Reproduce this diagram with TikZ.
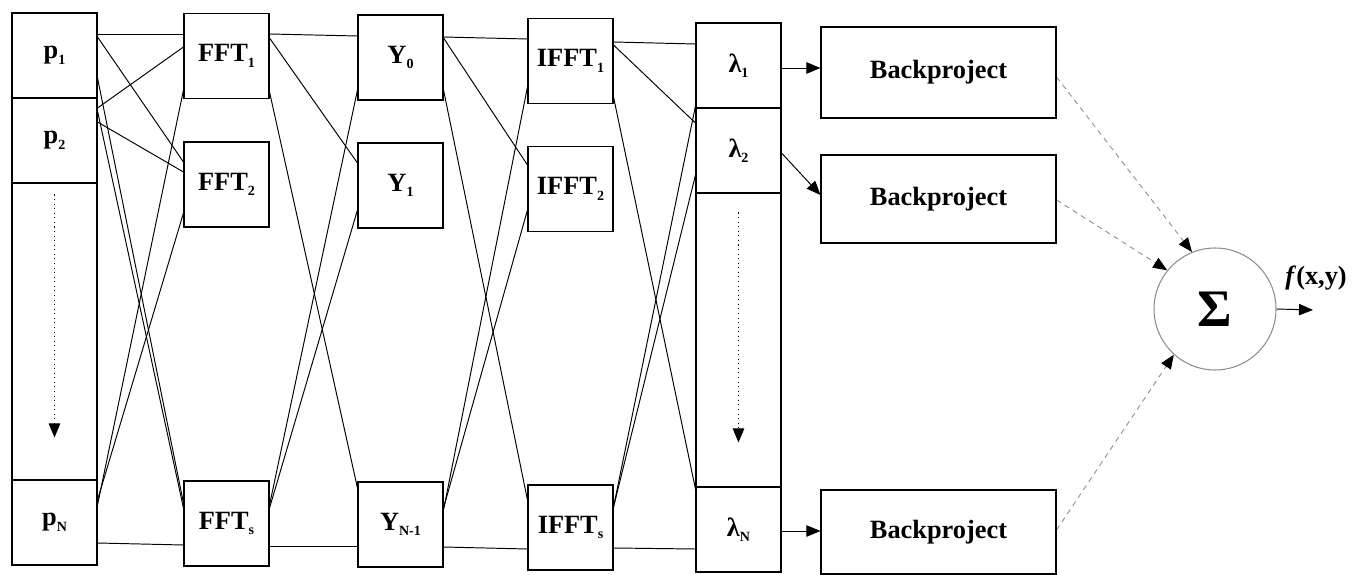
\documentclass[tikz,border=0pt]{standalone}
\usepackage{fontspec}
\setmainfont{Liberation Serif}
\usepackage{tikz}
\usetikzlibrary{arrows.meta}
\pgfdeclarelayer{edgelayer}
\pgfdeclarelayer{nodelayer}
\pgfsetlayers{edgelayer,nodelayer,main}
\newcommand{\subidx}[1]{\raisebox{-0.45ex}{\fontsize{8}{8}\selectfont #1}}
\tikzstyle{block}=[rectangle,draw=black,fill=white,line width=0.6pt,minimum width=1.7cm,minimum height=1.7cm,inner sep=0pt,font=\bfseries\fontsize{15}{18}\selectfont]
\tikzstyle{tall}=[block,minimum height=5.94cm]
\tikzstyle{wide}=[block,minimum width=4.7cm]
\tikzstyle{adder}=[circle,draw=black!45,line width=0.6pt,minimum size=2.44cm,inner sep=0pt,font=\bfseries\fontsize{30}{32}\selectfont]
\tikzstyle{simple}=[-,draw=black,line width=0.55pt]
\tikzstyle{directed}=[-{Triangle[length=8pt,width=6.5pt,black]},draw=black,line width=0.55pt]
\tikzstyle{faint}=[-{Triangle[length=8pt,width=6.5pt,black]},draw=black!45,line width=0.5pt,dash pattern=on 3pt off 2.5pt]
\tikzstyle{dotted_arrow}=[-{Triangle[length=8pt,width=6.5pt]},draw=black,line width=0.6pt,dotted]

\begin{document}
\begin{tikzpicture}
	\useasboundingbox (0,0) rectangle (27.14,-11.5);
	\begin{pgfonlayer}{nodelayer}
		\node [style=block] (0) at (1.09, -1.11) {p\subidx{1}};
		\node [style=block] (1) at (1.09, -2.81) {p\subidx{2}};
		\node [style=tall] (2) at (1.09, -6.63) {};
		\node [style=block] (3) at (1.09, -10.45) {p\subidx{N}};
		\node [style=block] (4) at (4.53, -1.12) {FFT\subidx{1}};
		\node [style=block] (5) at (4.53, -3.69) {FFT\subidx{2}};
		\node [style=block] (6) at (4.53, -10.47) {FFT\subidx{s}};
		\node [style=block] (7) at (8.01, -1.15) {Y\subidx{0}};
		\node [style=block] (8) at (8.01, -3.71) {Y\subidx{1}};
		\node [style=block] (9) at (8.01, -10.49) {Y\subidx{N-1}};
		\node [style=block] (10) at (11.41, -1.22) {IFFT\subidx{1}};
		\node [style=block] (11) at (11.41, -3.78) {IFFT\subidx{2}};
		\node [style=block] (12) at (11.41, -10.55) {IFFT\subidx{s}};
		\node [style=block] (13) at (14.77, -1.31) {λ\subidx{1}};
		\node [style=block] (14) at (14.77, -3.01) {λ\subidx{2}};
		\node [style=tall, minimum height=5.88cm] (15) at (14.77, -6.8) {};
		\node [style=block] (16) at (14.77, -10.59) {λ\subidx{N}};
		\node [style=wide, minimum height=1.82cm] (17) at (18.77, -1.45) {Backproject};
		\node [style=wide, minimum height=1.76cm] (18) at (18.77, -3.98) {Backproject};
		\node [style=wide, minimum height=1.68cm] (19) at (18.77, -10.64) {Backproject};
		\node [style=adder] (20) at (24.3, -6.18) {Σ};
		\coordinate (21) at (26.26, -6.2);
		\node [font=\bfseries\fontsize{15}{18}\selectfont] (22) at (26.32, -5.56) {\textit{f}(x,y)};
	\end{pgfonlayer}
	\begin{pgfonlayer}{edgelayer}
		% p -> FFT
		\draw [style=simple] (0.east |- 0,-0.68) to (4.west |- 0,-0.68);
		\draw [style=simple] (0.east |- 0,-0.74) to (5.west |- 0,-3.24);
		\draw [style=simple] (0.east |- 0,-1.56) to (6.west |- 0,-10.06);
		\draw [style=simple] (1.east |- 0,-2.16) to (4.west |- 0,-0.94);
		\draw [style=simple] (1.east |- 0,-2.44) to (5.west |- 0,-3.44);
		\draw [style=simple] (1.east |- 0,-2.22) to (6.west |- 0,-10.16);
		\draw [style=simple] (3.east |- 0,-10.1) to (4.west |- 0,-1.8);
		\draw [style=simple] (3.east |- 0,-10.0) to (5.west |- 0,-4.26);
		\draw [style=simple] (3.east |- 0,-10.86) to (6.west |- 0,-10.9);
		% FFT -> Y
		\draw [style=simple] (4.east |- 0,-0.68) to (7.west |- 0,-0.72);
		\draw [style=simple] (4.east |- 0,-0.76) to (8.west |- 0,-3.26);
		\draw [style=simple] (4.east |- 0,-1.84) to (9.west |- 0,-9.76);
		\draw [style=simple] (6.east |- 0,-10.1) to (7.west |- 0,-1.8);
		\draw [style=simple] (6.east |- 0,-10.16) to (8.west |- 0,-4.2);
		\draw [style=simple] (6.east |- 0,-10.92) to (9.west |- 0,-10.92);
		% Y -> IFFT
		\draw [style=simple] (7.east |- 0,-0.74) to (10.west |- 0,-0.78);
		\draw [style=simple] (7.east |- 0,-0.76) to (11.west |- 0,-3.3);
		\draw [style=simple] (7.east |- 0,-1.8) to (12.west |- 0,-10.0);
		\draw [style=simple] (9.east |- 0,-10.2) to (10.west |- 0,-1.74);
		\draw [style=simple] (9.east |- 0,-10.16) to (11.west |- 0,-4.2);
		\draw [style=simple] (9.east |- 0,-10.94) to (12.west |- 0,-10.98);
		% IFFT -> lambda
		\draw [style=simple] (10.east |- 0,-0.84) to (13.west |- 0,-0.88);
		\draw [style=simple] (10.east |- 0,-0.9) to (14.west |- 0,-2.46);
		\draw [style=simple] (10.east |- 0,-1.94) to (16.west |- 0,-9.78);
		\draw [style=simple] (12.east |- 0,-10.14) to (13.west |- 0,-2.12);
		\draw [style=simple] (12.east |- 0,-10.14) to (14.west |- 0,-3.5);
		\draw [style=simple] (12.east |- 0,-10.96) to (16.west |- 0,-10.98);
		% lambda -> backprojection -> sum
		\draw [style=directed] (13.east |- 0,-1.36) to (17.west |- 0,-1.36);
		\draw [style=directed] (14.east |- 0,-3.06) to (18.west |- 0,-3.9);
		\draw [style=directed] (16.east |- 0,-10.62) to (19.west |- 0,-10.62);
		\draw [style=faint] (17.east |- 0,-1.54) to (20.112);
		\draw [style=faint] (18.east |- 0,-4.0) to (20.141);
		\draw [style=faint] (19.east |- 0,-10.6) to (20.228);
		\draw [style=directed] (20.east) to (21);
	\end{pgfonlayer}
	\draw [style=dotted_arrow] ([yshift=-0.24cm]2.north) to ([yshift=0.86cm]2.south);
	\draw [style=dotted_arrow] ([yshift=-0.4cm]15.north) to ([yshift=0.9cm]15.south);
\end{tikzpicture}
\end{document}
